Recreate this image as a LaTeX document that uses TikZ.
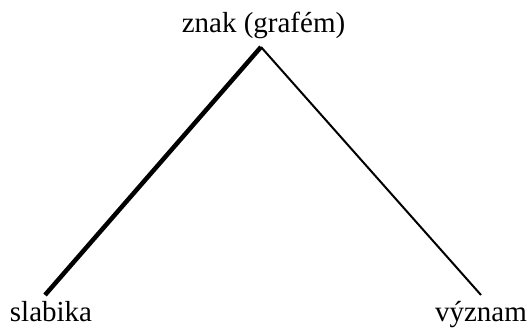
\documentclass[tikz,border=0pt]{standalone}
\usepackage{fontspec}
\setmainfont{Liberation Serif}
\begin{document}
\begin{tikzpicture}[x=1pt,y=-1pt,
  lbl/.style={inner sep=0pt,anchor=base,font=\fontsize{29}{34}\selectfont},
  thickedge/.style={line width=4.5pt},
  thinedge/.style={line width=2pt}]
\useasboundingbox (0,0) rectangle (528,327);
\node[lbl] (top) at (263.5,32) {znak (grafém)};
\node[lbl] (left) at (51,321) {slabika};
\node[lbl] (right) at (481,321) {význam};
\coordinate (apex) at (261,47);
\coordinate (lend) at (45,295);
\coordinate (rend) at (481,295);
\draw[thickedge] (apex) -- (lend);
\draw[thinedge] (apex) -- (rend);
\end{tikzpicture}
\end{document}
